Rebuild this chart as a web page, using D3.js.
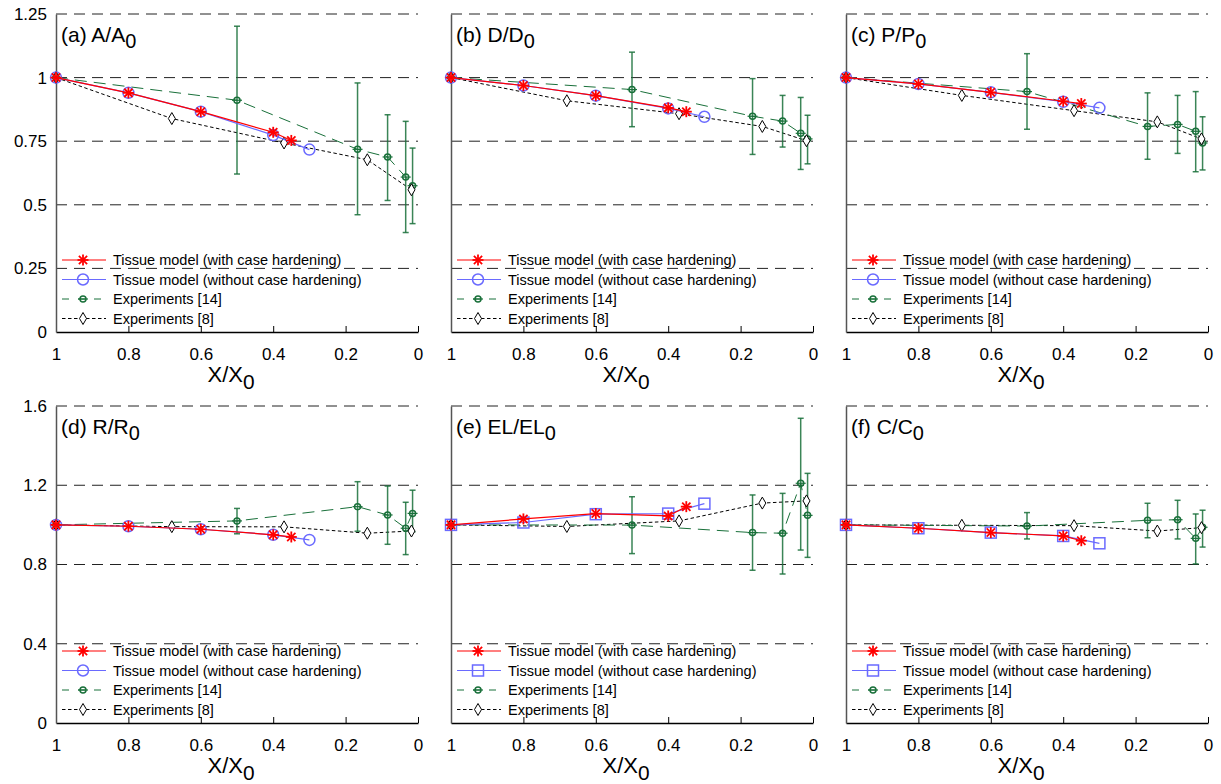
<!DOCTYPE html>
<html>
<head>
<meta charset="utf-8">
<script src="https://cdn.jsdelivr.net/npm/d3@7"></script>
<style>
  body { margin: 0; background: #fff; }
  svg text { font-family: "Liberation Sans", Arial, sans-serif; fill: #000; }
</style>
</head>
<body>
<div id="chart"></div>
<script>
// x positions (X/X0) of each series
const xHard = [1, 0.8, 0.6, 0.4, 0.35];
const xSoft = [1, 0.8, 0.6, 0.4, 0.3];
const xExp14 = [1, 0.5, 0.167, 0.084, 0.034, 0.015];
const xExp8 = [1, 0.68, 0.37, 0.14, 0.018];
const xTicks = [1, 0.8, 0.6, 0.4, 0.2, 0];

const yTicksTop = [0, 0.25, 0.5, 0.75, 1, 1.25];
const yTicksBottom = [0, 0.4, 0.8, 1.2, 1.6];

const panelLetters = ["a", "b", "c", "d", "e", "f"];
const panelNames = ["A/A", "D/D", "P/P", "R/R", "EL/EL", "C/C"];

const legendLabels = [
  "Tissue model (with case hardening)",
  "Tissue model (without case hardening)",
  "Experiments [14]",
  "Experiments [8]"
];

// (a) A/A0
const aHard = [1, 0.94, 0.866, 0.785, 0.753];
const aSoft = [1, 0.94, 0.866, 0.774, 0.717];
const aExp14 = [1, 0.911, 0.718, 0.688, 0.609, 0.575];
const aExp14Lo = [1, 0.621, 0.461, 0.517, 0.391, 0.426];
const aExp14Hi = [1, 1.202, 0.979, 0.854, 0.828, 0.723];
const aExp8 = [1, 0.839, 0.743, 0.677, 0.559];

// (b) D/D0
const dHard = [1, 0.969, 0.929, 0.881, 0.866];
const dSoft = [1, 0.969, 0.929, 0.879, 0.846];
const dExp14 = [1, 0.953, 0.848, 0.829, 0.781, 0.759];
const dExp14Lo = [1, 0.807, 0.698, 0.727, 0.639, 0.661];
const dExp14Hi = [1, 1.10, 0.996, 0.93, 0.922, 0.852];
const dExp8 = [1, 0.909, 0.858, 0.808, 0.752];

// (c) P/P0
const pHard = [1, 0.975, 0.942, 0.907, 0.898];
const pSoft = [1, 0.975, 0.942, 0.905, 0.881];
const pExp14 = [1, 0.945, 0.808, 0.816, 0.789, 0.743];
const pExp14Lo = [1, 0.797, 0.679, 0.702, 0.63, 0.637];
const pExp14Hi = [1, 1.094, 0.94, 0.93, 0.945, 0.846];
const pExp8 = [1, 0.93, 0.87, 0.826, 0.759];

// (d) R/R0
const rHard = [1, 0.993, 0.978, 0.95, 0.939];
const rSoft = [1, 0.993, 0.978, 0.95, 0.924];
const rExp14 = [1, 1.02, 1.092, 1.05, 0.983, 1.058];
const rExp14Lo = [1, 0.955, 0.968, 0.902, 0.85, 0.965];
const rExp14Hi = [1, 1.083, 1.218, 1.196, 1.114, 1.175];
const rExp8 = [1, 0.991, 0.99, 0.958, 0.969];

// (e) EL/EL0
const elHard = [1, 1.03, 1.057, 1.045, 1.092];
const elSoft = [1, 1.012, 1.054, 1.057, 1.107];
const elExp14 = [1, 0.999, 0.961, 0.958, 1.21, 1.048];
const elExp14Lo = [1, 0.855, 0.771, 0.752, 0.873, 0.836];
const elExp14Hi = [1, 1.142, 1.151, 1.159, 1.538, 1.26];
const elExp8 = [1, 0.992, 1.02, 1.11, 1.121];

// (f) C/C0
const cHard = [1, 0.983, 0.961, 0.944, 0.92];
const cSoft = [1, 0.983, 0.961, 0.944, 0.907];
const cExp14 = [1, 0.994, 1.023, 1.026, 0.932, 0.988];
const cExp14Lo = [1, 0.929, 0.935, 0.929, 0.803, 0.888];
const cExp14Hi = [1, 1.062, 1.109, 1.124, 1.055, 1.074];
const cExp8 = [1, 0.998, 0.996, 0.969, 0.986];

const panels = [
  { hard: aHard, soft: aSoft, e14: aExp14, lo: aExp14Lo, hi: aExp14Hi, e8: aExp8, square: false },
  { hard: dHard, soft: dSoft, e14: dExp14, lo: dExp14Lo, hi: dExp14Hi, e8: dExp8, square: false },
  { hard: pHard, soft: pSoft, e14: pExp14, lo: pExp14Lo, hi: pExp14Hi, e8: pExp8, square: false },
  { hard: rHard, soft: rSoft, e14: rExp14, lo: rExp14Lo, hi: rExp14Hi, e8: rExp8, square: false },
  { hard: elHard, soft: elSoft, e14: elExp14, lo: elExp14Lo, hi: elExp14Hi, e8: elExp8, square: true },
  { hard: cHard, soft: cSoft, e14: cExp14, lo: cExp14Lo, hi: cExp14Hi, e8: cExp8, square: true }
];

const RED = "#ff0000";
const BLUE = "#6a6aff";
const GREEN = "#19703a";

const colLeft = [56, 451, 846];
const rowTop = [14, 406];
const rowBottom = [332, 723];
const plotW = 362;

const svg = d3.select("#chart").append("svg")
  .attr("width", 1221)
  .attr("height", 784);

function star(g, cx, cy, r) {
  const s = g.append("g").attr("transform", `translate(${cx},${cy})`)
    .attr("stroke", RED).attr("stroke-width", 1.8);
  s.append("line").attr("x1", -r).attr("x2", r).attr("y1", 0).attr("y2", 0);
  s.append("line").attr("x1", 0).attr("x2", 0).attr("y1", -r).attr("y2", r);
  const d = r * 0.75;
  s.append("line").attr("x1", -d).attr("x2", d).attr("y1", -d).attr("y2", d);
  s.append("line").attr("x1", -d).attr("x2", d).attr("y1", d).attr("y2", -d);
}

function softMarker(g, cx, cy, square) {
  if (square) {
    g.append("rect").attr("x", cx - 5.5).attr("y", cy - 5.5)
      .attr("width", 11).attr("height", 11)
      .attr("fill", "none").attr("stroke", BLUE).attr("stroke-width", 1.5);
  } else {
    g.append("circle").attr("cx", cx).attr("cy", cy).attr("r", 5.5)
      .attr("fill", "none").attr("stroke", BLUE).attr("stroke-width", 1.5);
  }
}

function greenMarker(g, cx, cy) {
  g.append("line").attr("x1", cx - 5).attr("x2", cx + 5).attr("y1", cy).attr("y2", cy)
    .attr("stroke", GREEN).attr("stroke-width", 1.2);
  g.append("circle").attr("cx", cx).attr("cy", cy).attr("r", 3)
    .attr("fill", "none").attr("stroke", GREEN).attr("stroke-width", 1.5);
}

function diamond(g, cx, cy) {
  g.append("path")
    .attr("d", `M${cx},${cy - 6}L${cx + 3.5},${cy}L${cx},${cy + 6}L${cx - 3.5},${cy}Z`)
    .attr("fill", "#fff").attr("stroke", "#000").attr("stroke-width", 1);
}

function subText(g, x, y, main, sub, size, anchor) {
  const t = g.append("text").attr("x", x).attr("y", y)
    .attr("text-anchor", anchor || "start")
    .style("font-size", size + "px");
  t.append("tspan").text(main);
  t.append("tspan").attr("dy", size * 0.3).style("font-size", (size * 0.95) + "px").text(sub);
  return t;
}

panels.forEach((p, i) => {
  const row = Math.floor(i / 3);
  const col = i % 3;
  const left = colLeft[col];
  const top = rowTop[row];
  const bottom = rowBottom[row];
  const yTicks = row === 0 ? yTicksTop : yTicksBottom;
  const yMax = yTicks[yTicks.length - 1];

  const x = d3.scaleLinear().domain([1, 0]).range([left, left + plotW]);
  const y = d3.scaleLinear().domain([0, yMax]).range([bottom, top]);

  const g = svg.append("g");

  // dashed grid lines
  g.selectAll(".grid")
    .data(yTicks.filter(v => v > 0))
    .enter().append("line")
    .attr("x1", left).attr("x2", left + plotW)
    .attr("y1", d => y(d)).attr("y2", d => y(d))
    .attr("stroke", "#222").attr("stroke-width", 1)
    .attr("stroke-dasharray", "11,7");

  // axes
  const xAxis = g.append("g")
    .attr("transform", `translate(0,${bottom})`)
    .call(d3.axisBottom(x).tickValues(xTicks).tickFormat(d3.format("")).tickSizeInner(-6).tickSizeOuter(0).tickPadding(16));
  xAxis.select(".domain").attr("stroke", "#000").attr("stroke-width", 1.5);
  xAxis.selectAll(".tick line").attr("stroke", "#000").attr("stroke-width", 1);
  xAxis.selectAll("text").style("font-size", "17px").attr("fill", "#000")
    .style("font-family", "'Liberation Sans', Arial, sans-serif");

  const yAxis = g.append("g")
    .attr("transform", `translate(${left},0)`)
    .call(d3.axisLeft(y).tickValues(yTicks)
      .tickFormat(col === 0 ? d3.format("") : () => "")
      .tickSize(0).tickPadding(9));
  yAxis.select(".domain").attr("stroke", "#555").attr("stroke-width", 1.5);
  yAxis.selectAll("text").style("font-size", "17px").attr("fill", "#000")
    .style("font-family", "'Liberation Sans', Arial, sans-serif");

  // axis title
  subText(g, left + plotW / 2 - 6, bottom + 50, "X/X", "0", 22, "middle");

  // panel title
  subText(g, left + 5, top + 28, `(${panelLetters[i]}) ${panelNames[i]}`, "0", 21);

  // Experiments [8]
  const line8 = d3.line().x((d, k) => x(xExp8[k])).y(d => y(d));
  g.append("path").datum(p.e8).attr("d", line8)
    .attr("fill", "none").attr("stroke", "#000").attr("stroke-width", 1)
    .attr("stroke-dasharray", "3.5,2.5");

  // Experiments [14]
  const line14 = d3.line().x((d, k) => x(xExp14[k])).y(d => y(d));
  g.append("path").datum(p.e14).attr("d", line14)
    .attr("fill", "none").attr("stroke", GREEN).attr("stroke-width", 1)
    .attr("stroke-dasharray", "12,7");

  p.e14.forEach((v, k) => {
    const cx = x(xExp14[k]);
    if (p.hi[k] !== p.lo[k]) {
      g.append("line").attr("x1", cx).attr("x2", cx)
        .attr("y1", y(p.lo[k])).attr("y2", y(p.hi[k]))
        .attr("stroke", GREEN).attr("stroke-width", 1.5).attr("opacity", 0.85);
      [p.lo[k], p.hi[k]].forEach(e => {
        g.append("line").attr("x1", cx - 3).attr("x2", cx + 3)
          .attr("y1", y(e)).attr("y2", y(e))
          .attr("stroke", GREEN).attr("stroke-width", 1.5).attr("opacity", 0.85);
      });
    }
    greenMarker(g, cx, y(v));
  });
  p.e8.forEach((v, k) => diamond(g, x(xExp8[k]), y(v)));

  // tissue model without case hardening
  const lineSoft = d3.line().x((d, k) => x(xSoft[k])).y(d => y(d));
  g.append("path").datum(p.soft).attr("d", lineSoft)
    .attr("fill", "none").attr("stroke", BLUE).attr("stroke-width", 1.2);
  p.soft.forEach((v, k) => softMarker(g, x(xSoft[k]), y(v), p.square));

  // tissue model with case hardening
  const lineHard = d3.line().x((d, k) => x(xHard[k])).y(d => y(d));
  g.append("path").datum(p.hard).attr("d", lineHard)
    .attr("fill", "none").attr("stroke", RED).attr("stroke-width", 1.2);
  p.hard.forEach((v, k) => star(g, x(xHard[k]), y(v), 5.5));

  // legend
  const lx0 = left + 6;
  const lx1 = left + 50;
  const lm = left + 27;
  const rows = [bottom - 72, bottom - 52.5, bottom - 33, bottom - 13.5];
  const lg = g.append("g");

  lg.append("line").attr("x1", lx0).attr("x2", lx1).attr("y1", rows[0]).attr("y2", rows[0])
    .attr("stroke", RED).attr("stroke-width", 1.2);
  star(lg, lm, rows[0], 5.5);

  lg.append("line").attr("x1", lx0).attr("x2", lx1).attr("y1", rows[1]).attr("y2", rows[1])
    .attr("stroke", BLUE).attr("stroke-width", 1.2);
  softMarker(lg, lm, rows[1], p.square);

  lg.append("line").attr("x1", lx0).attr("x2", lx1).attr("y1", rows[2]).attr("y2", rows[2])
    .attr("stroke", GREEN).attr("stroke-width", 1).attr("stroke-dasharray", "7,9");
  greenMarker(lg, lm, rows[2]);

  lg.append("line").attr("x1", lx0).attr("x2", lx1).attr("y1", rows[3]).attr("y2", rows[3])
    .attr("stroke", "#000").attr("stroke-width", 1).attr("stroke-dasharray", "3.5,2.5");
  diamond(lg, lm, rows[3]);

  legendLabels.forEach((t, k) => {
    lg.append("text").attr("x", left + 57).attr("y", rows[k] + 5)
      .style("font-size", "14.5px").text(t);
  });
});
</script>
</body>
</html>
